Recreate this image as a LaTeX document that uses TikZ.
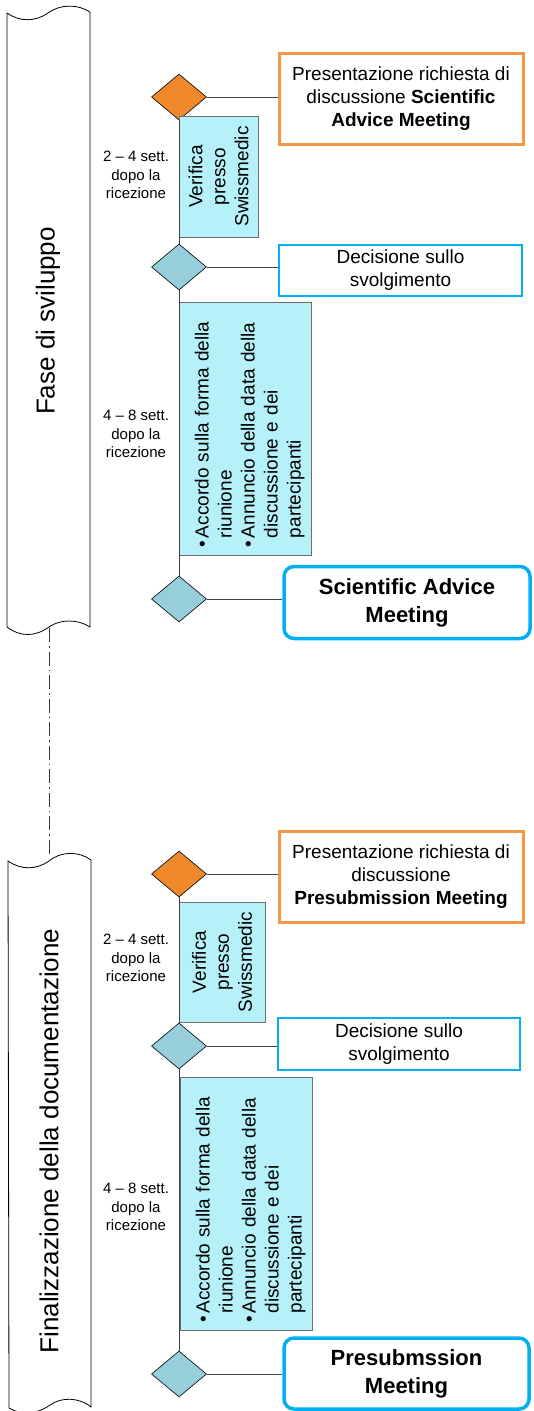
\documentclass[tikz,border=0pt]{standalone}
\usepackage{fontspec}
\setmainfont{Liberation Sans}
\usetikzlibrary{shapes.geometric, positioning, calc}
\definecolor{MilestoneOrange}{HTML}{F0892B}
\definecolor{RequestOrange}{HTML}{F79646}
\definecolor{MilestoneTeal}{HTML}{96CEDC}
\definecolor{StepCyan}{HTML}{B6F1F9}
\definecolor{StepGrey}{HTML}{6F6F6F}
\definecolor{SkyBlue}{HTML}{00B0F0}
\definecolor{LinkGrey}{HTML}{404040}
\newcommand{\boxfont}{\fontsize{19}{23}\selectfont}
\newcommand{\notefont}{\fontsize{15}{18.5}\selectfont}
\newcommand{\phasefont}{\fontsize{26}{30}\selectfont}
\newcommand{\meetfont}{\fontsize{22}{28}\selectfont\bfseries}
\newcommand{\bulletline}{\par\noindent\hangindent=9pt\hangafter=1\makebox[9pt][l]{\textbullet}}
\tikzset{
  lane/.style={draw=black, line width=0.8pt, fill=white},
  phaselabel/.style={rotate=90, font=\phasefont},
  milestone/.style={
    diamond, draw=black, line width=0.6pt,
    minimum width=55pt, minimum height=46pt, inner sep=0pt
  },
  request/.style={
    rectangle, draw=RequestOrange, line width=3pt,
    minimum width=244pt, minimum height=91pt,
    align=center, font=\boxfont, inner sep=0pt
  },
  decision/.style={
    rectangle, draw=SkyBlue, line width=1.1pt,
    minimum width=243pt, minimum height=51pt,
    align=center, font=\boxfont, inner sep=0pt
  },
  meeting/.style={
    rectangle, rounded corners=10pt, draw=SkyBlue, line width=3.5pt,
    minimum width=246pt, minimum height=72pt,
    align=center, font=\meetfont, inner sep=0pt
  },
  stepbox/.style={
    rectangle, draw=StepGrey, line width=0.8pt, fill=StepCyan,
    rotate=90, align=center, font=\boxfont, inner sep=0pt
  },
  listbox/.style={
    stepbox, minimum width=253pt, minimum height=132pt,
    text width=237pt, align=left
  },
  delay/.style={align=center, font=\notefont},
  link/.style={draw=LinkGrey, line width=0.8pt},
  phaselink/.style={draw=black!80, line width=0.8pt,
    dash pattern=on 14pt off 4pt on 1.5pt off 4pt}
}

\begin{document}
\begin{tikzpicture}[x=1pt, y=-1pt]
\useasboundingbox (0,0) rectangle (533,1411);

% ── Phase lanes ───────────────────────────────────────────────────────────────

\draw[lane] (7,13) .. controls (20,22) and (35,22) .. (48,13)
  .. controls (60,4) and (78,4) .. (90,12) -- (90,627)
  .. controls (78,619) and (60,619) .. (49,627)
  .. controls (35,637) and (20,637) .. (7,627) -- cycle;
\node[phaselabel] (phase1) at (48,321) {Fase di sviluppo};

\draw[lane] (8,861) .. controls (21,870) and (36,870) .. (49,861)
  .. controls (61,851) and (79,851) .. (91,860) -- (91,1407)
  .. controls (79,1397) and (61,1397) .. (50,1405)
  .. controls (36,1415) and (21,1415) .. (9,1408) -- cycle;
\node[phaselabel] (phase2) at (49,1141) {Finalizzazione della documentazione};

\coordinate (lane1S) at (49,628);
\coordinate (lane2N) at (49,857);
\draw[phaselink] (lane1S) -- (lane2N);

% ── Scientific Advice Meeting ─────────────────────────────────────────────────

\node[milestone, fill=MilestoneOrange] (d1) at (179,97) {};
\node[milestone, fill=MilestoneTeal] (d2) at (179,267) {};
\node[milestone, fill=MilestoneTeal] (d3) at (179,599) {};

\node[stepbox, minimum width=121pt, minimum height=79pt] (check1) at (218.5,176.5)
  {Verifica\\presso\\Swissmedic};
\node[listbox] (plan1) at (245,428.5) {%
  \bulletline Accordo sulla forma della\newline riunione
  \bulletline Annuncio della data della\newline discussione e dei\newline partecipanti\par};

\node[delay] (wait1) at (136,175) {2 -- 4 sett.\\dopo la\\ricezione};
\node[delay] (wait2) at (136,434) {4 -- 8 sett.\\dopo la\\ricezione};

\node[request] (req1) at (401,98.5)
  {Presentazione richiesta di\\discussione \textbf{Scientific}\\\textbf{Advice Meeting}};
\node[decision] (dec1) at (400.5,270.5) {Decisione sullo\\svolgimento};
\node[meeting] (meet1) at (407,602.5) {Scientific Advice\\Meeting};

\draw[link] (d1.south) -- (d2.north);
\draw[link] (d2.south) -- (d3.north);
\draw[link] (d1.east) -- (d1.east -| req1.west);
\draw[link] (d2.east) -- (d2.east -| dec1.west);
\draw[link] (d3.east) -- (d3.east -| meet1.west);

% ── Presubmission Meeting ─────────────────────────────────────────────────────

\node[milestone, fill=MilestoneOrange] (d4) at (179,874) {};
\node[milestone, fill=MilestoneTeal] (d5) at (179,1046) {};
\node[milestone, fill=MilestoneTeal] (d6) at (179,1374) {};

\node[stepbox, minimum width=120pt, minimum height=86pt] (check2) at (222,962)
  {Verifica\\presso\\Swissmedic};
\node[listbox] (plan2) at (246,1204) {%
  \bulletline Accordo sulla forma della\newline riunione
  \bulletline Annuncio della data della\newline discussione e dei\newline partecipanti\par};

\node[delay] (wait3) at (136,958) {2 -- 4 sett.\\dopo la\\ricezione};
\node[delay] (wait4) at (136,1207) {4 -- 8 sett.\\dopo la\\ricezione};

\node[request] (req2) at (401,876.5)
  {Presentazione richiesta di\\discussione\\\textbf{Presubmission Meeting}};
\node[decision, minimum width=242pt, minimum height=52pt] (dec2) at (399,1044)
  {Decisione sullo\\svolgimento};
\node[meeting, minimum width=245pt, minimum height=71pt] (meet2) at (406.5,1373.5)
  {Presubmssion\\Meeting};

\draw[link] (d4.south) -- (d5.north);
\draw[link] (d5.south) -- (d6.north);
\draw[link] (d4.east) -- (d4.east -| req2.west);
\draw[link] (d5.east) -- (d5.east -| dec2.west);
\draw[link] (d6.east) -- (d6.east -| meet2.west);

\end{tikzpicture}
\end{document}
